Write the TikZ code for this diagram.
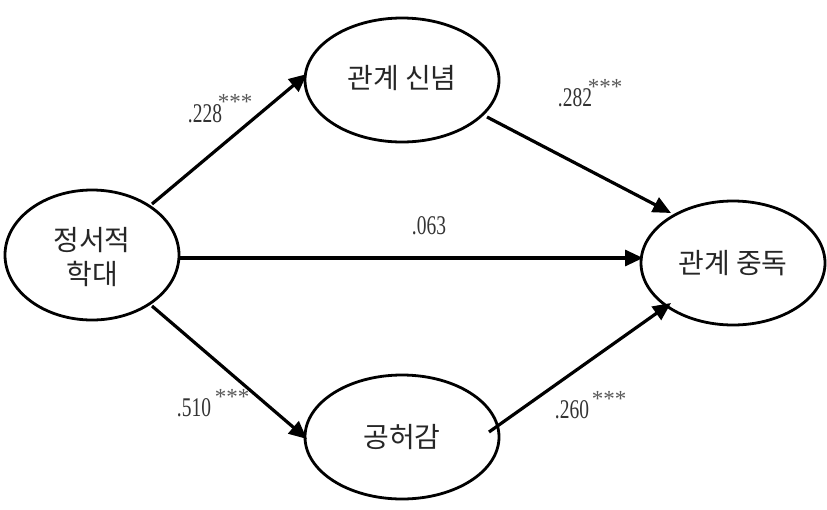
\documentclass[tikz,border=0pt]{standalone}
\usepackage{fontspec}
\setmainfont{Liberation Serif}
\newfontfamily\kr{Noto Sans CJK KR}
\newfontfamily\numf[FakeStretch=0.72]{Liberation Serif}
\usetikzlibrary{arrows.meta}
\begin{document}
\begin{tikzpicture}[x=1pt,y=-1pt,
  ell/.style={draw,line width=2.8pt},
  conn/.style={line width=3.2pt,-{Triangle[length=18pt,width=16pt]}},
  lab/.style={font=\numf\fontsize{27}{28}\selectfont,color=black!80,inner sep=0pt},
  star/.style={font=\fontsize{23}{24}\selectfont,color=black!65,inner sep=0pt},
  ktext/.style={font=\kr\fontsize{28}{34}\selectfont,align=center,color=black!85}]
\useasboundingbox (0,0) rectangle (827,509);
\draw[ell] (92,255) ellipse [x radius=87, y radius=65];
\draw[ell] (402,80) ellipse [x radius=97, y radius=62];
\draw[ell] (733,263) ellipse [x radius=92, y radius=62];
\draw[ell] (402,437) ellipse [x radius=97, y radius=62];
\node[ktext] (a) at (92,257) {정서적\\학대};
\node[ktext] (b) at (402,78) {관계 신념};
\node[ktext] (c) at (733,263) {관계 중독};
\node[ktext] (d) at (402,437) {공허감};
\coordinate (a1) at (152,204);
\coordinate (b1) at (307,74);
\coordinate (b2) at (487,117);
\coordinate (c1) at (671,213);
\coordinate (a2) at (179,258);
\coordinate (c2) at (643,258);
\coordinate (a3) at (152,306);
\coordinate (d1) at (307,439);
\coordinate (d2) at (489,432);
\coordinate (c3) at (671,303);
\draw[conn] (a1) -- (b1);
\draw[conn] (b2) -- (c1);
\draw[conn] (a2) -- (c2);
\draw[conn] (a3) -- (d1);
\draw[conn] (d2) -- (c3);
\node[lab] (l1) at (205,114) {.228};
\node[star] (s1) at (235,102) {***};
\node[lab] (l2) at (575,98) {.282};
\node[star] (s2) at (605,87) {***};
\node[lab] (l3) at (429,226) {.063};
\node[lab] (l4) at (194,408) {.510};
\node[star] (s4) at (232,397) {***};
\node[lab] (l5) at (572,410) {.260};
\node[star] (s5) at (609,399) {***};
\end{tikzpicture}
\end{document}
